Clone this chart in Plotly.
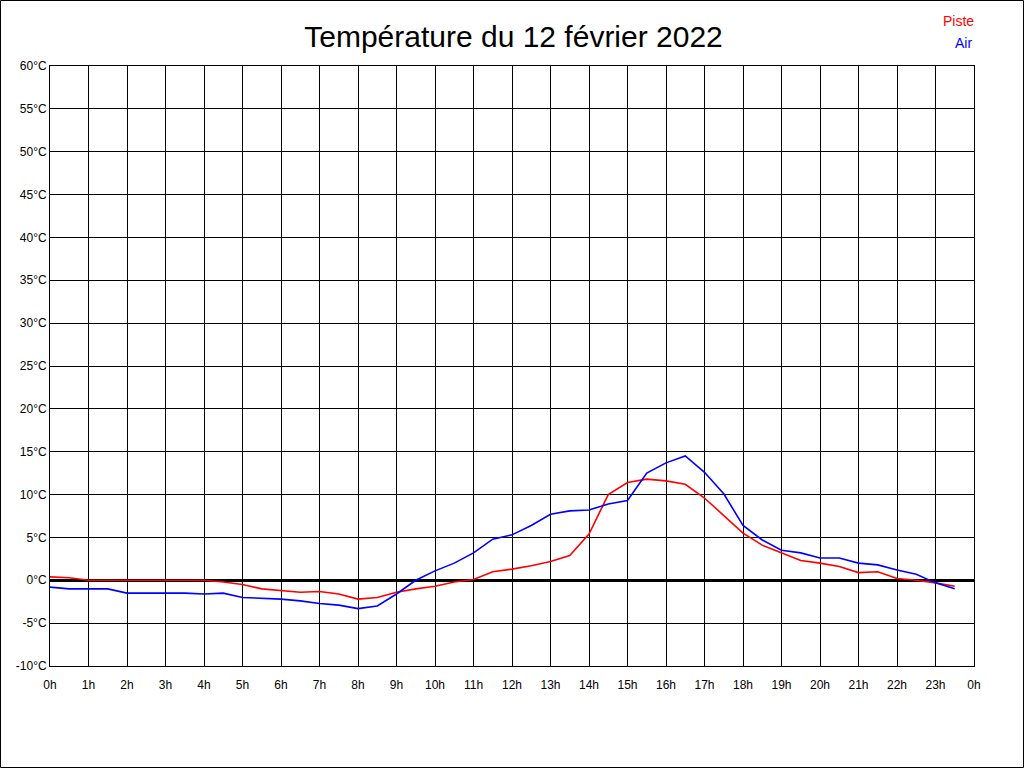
import plotly.graph_objects as go

hours = [i * 0.5 for i in range(48)]  # 0h .. 23.5h

piste = [0.4, 0.3, 0.0, 0.0, 0.0, 0.0, 0.0, 0.0, 0.0, -0.2,
         -0.5, -1.0, -1.2, -1.4, -1.3, -1.6, -2.2, -2.0, -1.4, -1.0,
         -0.7, -0.2, 0.1, 1.0, 1.3, 1.7, 2.2, 2.9, 5.4, 10.0,
         11.4, 11.8, 11.6, 11.2, 9.6, 7.6, 5.5, 4.1, 3.2, 2.3,
         2.0, 1.6, 0.9, 1.0, 0.2, 0.0, -0.3, -0.7]
air = [-0.8, -1.0, -1.0, -1.0, -1.5, -1.5, -1.5, -1.5, -1.6, -1.5,
       -2.0, -2.1, -2.2, -2.4, -2.7, -2.9, -3.3, -3.0, -1.6, 0.0,
       1.1, 2.0, 3.2, 4.8, 5.3, 6.4, 7.7, 8.1, 8.2, 8.9,
       9.3, 12.5, 13.7, 14.5, 12.6, 10.1, 6.4, 4.7, 3.5, 3.2,
       2.6, 2.6, 2.0, 1.8, 1.2, 0.7, -0.3, -1.0]

x_ticks = list(range(25))
x_labels = [f"{h % 24}h" for h in x_ticks]
y_ticks = list(range(-10, 61, 5))
y_labels = [f"{v}°C" for v in y_ticks]

fig = go.Figure()
fig.add_trace(go.Scatter(x=hours, y=piste, mode="lines", name="Piste",
                         line=dict(color="#ff0000", width=1.6)))
fig.add_trace(go.Scatter(x=hours, y=air, mode="lines", name="Air",
                         line=dict(color="#0000ff", width=1.6)))

font = "Liberation Sans, Arial, sans-serif"
fig.update_layout(
    width=1024, height=768,
    margin=dict(l=50, r=50, t=66, b=102),
    paper_bgcolor="white", plot_bgcolor="white",
    showlegend=False,
    font=dict(family=font, size=12, color="black"),
    title=dict(text="Température du 12 février 2022", x=513.5 / 1024, xanchor="center",
               y=1 - 36 / 768, yanchor="middle",
               font=dict(family=font, size=30, color="black")),
    xaxis=dict(range=[0, 24], tickmode="array", tickvals=x_ticks, ticktext=x_labels,
               showgrid=True, gridcolor="black", gridwidth=1,
               showline=True, linecolor="black", linewidth=1, mirror=True,
               zeroline=False, ticks="", ticklen=0, ticklabelstandoff=8,
               tickfont=dict(family=font, size=12, color="black")),
    yaxis=dict(range=[-10, 60], tickmode="array", tickvals=y_ticks, ticktext=y_labels,
               showgrid=True, gridcolor="black", gridwidth=1,
               showline=True, linecolor="black", linewidth=1, mirror=True,
               zeroline=True, zerolinecolor="black", zerolinewidth=3,
               ticks="", ticklen=0,
               tickfont=dict(family=font, size=12, color="black")),
)

fig.add_annotation(text="Piste", xref="paper", yref="paper",
                   x=(976 - 50) / 924, y=(666 - 21) / 600, xanchor="right", yanchor="middle",
                   showarrow=False, font=dict(family=font, size=14, color="#ff0000"))
fig.add_annotation(text="Air", xref="paper", yref="paper",
                   x=(974 - 50) / 924, y=(666 - 43) / 600, xanchor="right", yanchor="middle",
                   showarrow=False, font=dict(family=font, size=14, color="#0000ff"))

# outer frame of the picture
fig.add_shape(type="rect", xref="paper", yref="paper",
              x0=(0.5 - 50) / 924, x1=(1023.5 - 50) / 924,
              y0=(666 - 767.5) / 600, y1=(666 - 0.5) / 600,
              line=dict(color="black", width=1), fillcolor="rgba(0,0,0,0)", layer="above")

fig.write_html("out.html", config={"displayModeBar": False},
               post_script="document.body.style.margin='0';document.body.style.padding='0';")
